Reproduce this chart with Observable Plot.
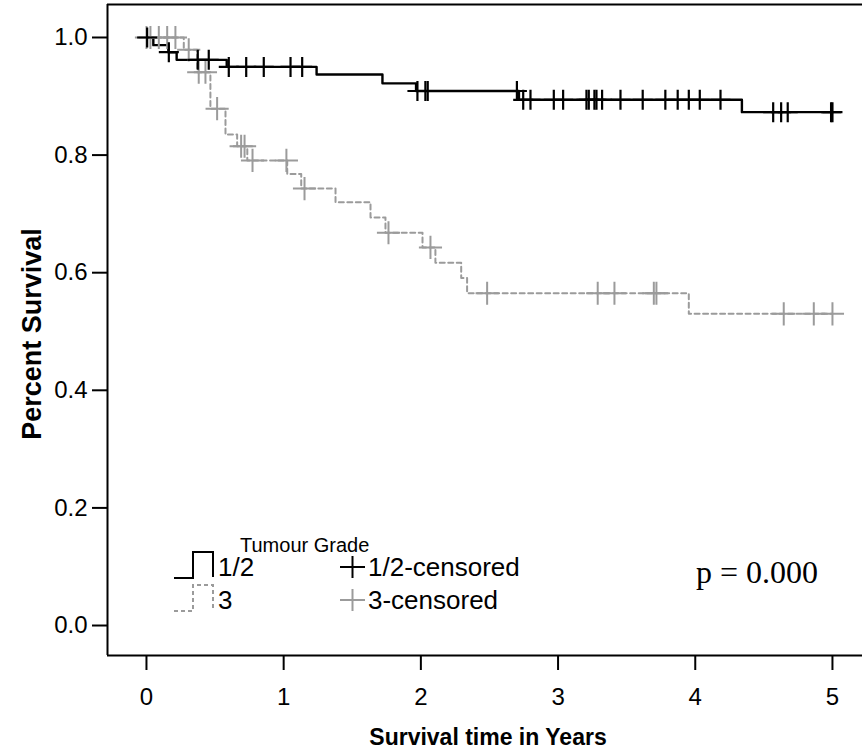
<!DOCTYPE html>
<html>
<head>
<meta charset="utf-8">
<script src="https://cdn.jsdelivr.net/npm/d3@7"></script>
<script src="https://cdn.jsdelivr.net/npm/@observablehq/plot@0.6"></script>
<style>
  body { margin: 0; background: #fff; }
  #chart svg [aria-label$="axis tick"] path,
  #chart svg .tick line { stroke-width: 2px; }
</style>
</head>
<body>
<div id="chart"></div>
<script>
// Kaplan–Meier survival by tumour grade

const gradeLabels = ["1/2", "3"];
const censorLabels = ["1/2-censored", "3-censored"];
const legendTitle = "Tumour Grade";
const pValueText = "p = 0.000";
const xTicks = [0, 1, 2, 3, 4, 5];
const yTicks = [0, 0.2, 0.4, 0.6, 0.8, 1.0];

// Grade 1/2: event times (years) and survival after each step
const lowTimes = [0, 0.05, 0.16, 0.22, 0.585, 1.24, 1.72, 1.965, 2.715, 4.34, 5.0];
const lowSurv  = [1.0, 0.987, 0.975, 0.962, 0.950, 0.937, 0.922, 0.909, 0.894, 0.873, 0.873];
// Grade 3
const highTimes = [0, 0.272, 0.370, 0.466, 0.576, 0.661, 0.735, 1.026, 1.128, 1.378, 1.633, 1.742, 2.012, 2.106, 2.294, 2.337, 3.953, 5.0];
const highSurv  = [1.0, 0.979, 0.941, 0.879, 0.835, 0.815, 0.791, 0.768, 0.743, 0.720, 0.694, 0.668, 0.643, 0.617, 0.591, 0.565, 0.530, 0.530];

// Censoring times
const lowCensored = [0.005, 0.163, 0.374, 0.454, 0.60, 0.727, 0.855, 1.05, 1.135, 1.975, 2.033, 2.050, 2.70,
  2.746, 2.799, 2.969, 3.037, 3.207, 3.224, 3.265, 3.280, 3.321, 3.455, 3.617, 3.782, 3.872, 3.953, 4.033,
  4.184, 4.568, 4.626, 4.674, 4.99, 5.0];
const highCensored = [0.0, 0.029, 0.090, 0.151, 0.211, 0.308, 0.381, 0.430, 0.515, 0.690, 0.715, 0.773,
  1.020, 1.152, 1.764, 2.070, 2.483, 3.289, 3.411, 3.698, 3.717, 4.645, 4.864, 5.0];

const black = "#000";
const grey = "#9b9b9b";

const curve = (times, surv) => times.map((t, i) => ({t, s: surv[i]}));
// survival level in force at time t (right-continuous step)
const levelAt = (times, surv, t) => surv[Math.max(0, d3.bisectRight(times, t) - 1)];
const marksFor = (cens, times, surv) => cens.map(t => ({t, s: levelAt(times, surv, t)}));

const lowCurve = curve(lowTimes, lowSurv);
const highCurve = curve(highTimes, highSurv);
const lowMarks = marksFor(lowCensored, lowTimes, lowSurv);
const highMarks = marksFor(highCensored, highTimes, highSurv);

const xDomain = [-0.284, 5.219];
const yDomain = [-0.051, 1.0561];

const plot = Plot.plot({
  width: 862,
  height: 751,
  marginLeft: 107,
  marginRight: 0,
  marginTop: 4,
  marginBottom: 96,
  style: {fontFamily: "'Liberation Sans', Arial, sans-serif", fontSize: "24px", background: "#fff", color: "#000"},
  x: {domain: xDomain, ticks: xTicks, tickFormat: d => String(d), tickSize: 15, tickPadding: 17, label: null},
  y: {domain: yDomain, ticks: yTicks, tickFormat: ".1f", tickSize: 15, tickPadding: 5, label: null},
  marks: [
    Plot.ruleX([xDomain[0]], {stroke: black, strokeWidth: 2}),
    Plot.ruleY([yDomain[0]], {stroke: black, strokeWidth: 2}),
    Plot.ruleY([yDomain[1]], {stroke: black, strokeWidth: 2}),
    Plot.line(highCurve, {x: "t", y: "s", curve: "step-after", stroke: grey, strokeWidth: 2, strokeDasharray: "5,3.5"}),
    Plot.line(lowCurve, {x: "t", y: "s", curve: "step-after", stroke: black, strokeWidth: 2.4}),
    Plot.dot(highMarks, {x: "t", y: "s", symbol: "plus", r: 7.5, stroke: grey, strokeWidth: 2}),
    Plot.dot(lowMarks, {x: "t", y: "s", symbol: "plus", r: 6.5, stroke: black, strokeWidth: 2.2})
  ]
});

document.getElementById("chart").appendChild(plot);

const svg = d3.select(plot);
const sans = "'Liberation Sans', Arial, sans-serif";

// axis titles
svg.append("text")
  .attr("x", 488).attr("y", 745)
  .attr("text-anchor", "middle")
  .attr("font-family", sans).attr("font-size", 23).attr("font-weight", "bold")
  .text("Survival time in Years");
svg.append("text")
  .attr("transform", "translate(41,334) rotate(-90)")
  .attr("text-anchor", "middle")
  .attr("font-family", sans).attr("font-size", 27).attr("font-weight", "bold")
  .text("Percent Survival");

// legend
const lg = svg.append("g").attr("font-family", sans).attr("fill", "#000").attr("text-anchor", "start");
lg.append("text").attr("x", 240).attr("y", 552).attr("font-size", 20).text(legendTitle);

const rows = [
  {label: gradeLabels[0], cens: censorLabels[0], color: black, dash: null, cy: 567},
  {label: gradeLabels[1], cens: censorLabels[1], color: grey, dash: "4,3", cy: 600}
];
rows.forEach(r => {
  const bottom = r.cy + 11, top = r.cy - 15;
  lg.append("path")
    .attr("d", `M174,${bottom}H193V${top}H213V${bottom - 1}`)
    .attr("fill", "none").attr("stroke", r.color).attr("stroke-width", 2)
    .attr("stroke-dasharray", r.dash);
  lg.append("text").attr("x", 218).attr("y", r.cy + 9).attr("font-size", 26).text(r.label);
  lg.append("path")
    .attr("d", `M340,${r.cy}H365M352.5,${r.cy - 11}V${r.cy + 11}`)
    .attr("stroke", r.color).attr("stroke-width", 2);
  lg.append("text").attr("x", 368).attr("y", r.cy + 9).attr("font-size", 26).text(r.cens);
});

// log-rank p-value
svg.append("text")
  .attr("x", 696).attr("y", 583)
  .attr("text-anchor", "start")
  .attr("font-family", "'Liberation Serif', 'Times New Roman', serif")
  .attr("font-size", 32)
  .text(pValueText);
</script>
</body>
</html>
